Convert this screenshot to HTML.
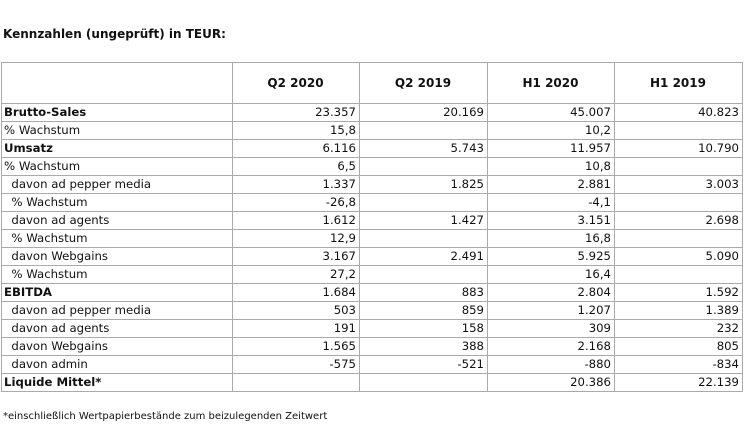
<!DOCTYPE html>
<html><head><meta charset="utf-8"><style>
body{margin:0;width:750px;height:436px;background:#fff;font-family:"DejaVu Sans","Liberation Sans",sans-serif;font-size:11.7px;color:#111;position:relative;overflow:hidden}
.t{position:absolute;left:3px;top:27px;font-weight:bold;font-size:12px}
table{position:absolute;left:1px;top:62px;border-collapse:collapse;table-layout:fixed}
td{border:1px solid #aaa;height:17px;padding:0 3px 0 2px;white-space:nowrap;line-height:17px}
td.n{text-align:right}
tr.h td{height:40px;text-align:center;font-weight:bold;font-size:12px}
.b{font-weight:bold}
.f{position:absolute;left:3px;top:411px;font-size:10px}
</style></head><body>
<div class="t">Kennzahlen (ungeprüft) in TEUR:</div>
<table>
<colgroup><col style="width:231px"><col style="width:127px"><col style="width:128px"><col style="width:127px"><col style="width:128px"></colgroup>
<tr class="h"><td></td><td>Q2 2020</td><td>Q2 2019</td><td>H1 2020</td><td>H1 2019</td></tr>
<tr><td class="b">Brutto-Sales</td><td class="n">23.357</td><td class="n">20.169</td><td class="n">45.007</td><td class="n">40.823</td></tr>
<tr><td>% Wachstum</td><td class="n">15,8</td><td></td><td class="n">10,2</td><td></td></tr>
<tr><td class="b">Umsatz</td><td class="n">6.116</td><td class="n">5.743</td><td class="n">11.957</td><td class="n">10.790</td></tr>
<tr><td>% Wachstum</td><td class="n">6,5</td><td></td><td class="n">10,8</td><td></td></tr>
<tr><td>&nbsp; davon ad pepper media</td><td class="n">1.337</td><td class="n">1.825</td><td class="n">2.881</td><td class="n">3.003</td></tr>
<tr><td>&nbsp; % Wachstum</td><td class="n">-26,8</td><td></td><td class="n">-4,1</td><td></td></tr>
<tr><td>&nbsp; davon ad agents</td><td class="n">1.612</td><td class="n">1.427</td><td class="n">3.151</td><td class="n">2.698</td></tr>
<tr><td>&nbsp; % Wachstum</td><td class="n">12,9</td><td></td><td class="n">16,8</td><td></td></tr>
<tr><td>&nbsp; davon Webgains</td><td class="n">3.167</td><td class="n">2.491</td><td class="n">5.925</td><td class="n">5.090</td></tr>
<tr><td>&nbsp; % Wachstum</td><td class="n">27,2</td><td></td><td class="n">16,4</td><td></td></tr>
<tr><td class="b">EBITDA</td><td class="n">1.684</td><td class="n">883</td><td class="n">2.804</td><td class="n">1.592</td></tr>
<tr><td>&nbsp; davon ad pepper media</td><td class="n">503</td><td class="n">859</td><td class="n">1.207</td><td class="n">1.389</td></tr>
<tr><td>&nbsp; davon ad agents</td><td class="n">191</td><td class="n">158</td><td class="n">309</td><td class="n">232</td></tr>
<tr><td>&nbsp; davon Webgains</td><td class="n">1.565</td><td class="n">388</td><td class="n">2.168</td><td class="n">805</td></tr>
<tr><td>&nbsp; davon admin</td><td class="n">-575</td><td class="n">-521</td><td class="n">-880</td><td class="n">-834</td></tr>
<tr><td class="b">Liquide Mittel*</td><td></td><td></td><td class="n">20.386</td><td class="n">22.139</td></tr>
</table>
<div class="f">*einschließlich Wertpapierbestände zum beizulegenden Zeitwert</div>
</body></html>
